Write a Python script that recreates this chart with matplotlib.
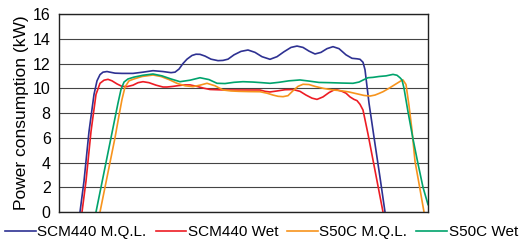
import matplotlib.pyplot as plt
import numpy as np

plt.rcParams['font.family'] = ['Liberation Sans', 'DejaVu Sans']

# x positions are in relative time units across the plot width (no x axis shown)
scm_mql_x = [21, 25, 30, 35, 38, 41, 44, 48, 51, 56, 63, 74, 84, 94, 104, 112, 116, 120, 124, 128, 133,
             137, 141, 146, 152, 159, 164, 169, 175, 182, 189, 196, 203, 211, 218, 225, 232, 238, 244,
             250, 256, 262, 268, 274, 280, 287, 293, 298, 301, 304, 306, 310, 316, 321, 326]
scm_mql_y = [0, 2.5, 6.5, 9.5, 10.6, 11.1, 11.3, 11.35, 11.3, 11.22, 11.2, 11.2, 11.3, 11.42, 11.35,
             11.26, 11.3, 11.55, 12.0, 12.35, 12.65, 12.75, 12.74, 12.6, 12.35, 12.23, 12.25, 12.35, 12.7,
             12.98, 13.09, 12.9, 12.55, 12.34, 12.55, 12.95, 13.3, 13.41, 13.3, 13.0, 12.77, 12.9, 13.2,
             13.36, 13.2, 12.7, 12.42, 12.38, 12.34, 12.1, 11.5, 8.8, 5.5, 2.8, 0]

scm_wet_x = [23, 27, 32, 37, 41, 45, 49, 53, 58, 63, 68, 74, 79, 84, 90, 97, 104, 108, 114, 120, 126,
             131, 138, 145, 151, 165, 180, 201, 206, 211, 218, 226, 234, 241, 247, 253, 258, 264, 270,
             275, 278, 283, 287, 291, 295, 298, 301, 304, 309, 314, 319, 324]
scm_wet_y = [0, 2.5, 6.5, 9.5, 10.4, 10.65, 10.72, 10.6, 10.35, 10.15, 10.13, 10.25, 10.45, 10.53,
             10.45, 10.25, 10.1, 10.1, 10.15, 10.22, 10.27, 10.27, 10.15, 10.0, 9.9, 9.86, 9.86, 9.86, 9.75,
             9.7, 9.78, 9.88, 9.9, 9.75, 9.45, 9.2, 9.1, 9.3, 9.65, 9.86, 9.87, 9.75, 9.6, 9.3, 9.1, 9.0,
             8.7, 8.24, 6.3, 4.2, 2.1, 0]

s50_mql_x = [41, 46, 51, 56, 60, 63, 66, 70, 75, 83, 94, 102, 110, 118, 126, 134, 141, 148, 156, 164,
             172, 180, 190, 201, 208, 214, 219, 224, 229, 234, 239, 244, 250, 256, 265, 274, 282, 290,
             298, 305, 311, 316, 320, 324, 329, 334, 339, 342, 344, 347, 350, 353, 356, 360, 365]
s50_mql_y = [0, 2.0, 4.0, 6.0, 7.8, 9.1, 10.1, 10.6, 10.75, 10.95, 11.07, 10.95, 10.7, 10.4, 10.2,
             10.13, 10.25, 10.4, 10.2, 9.86, 9.78, 9.75, 9.73, 9.72, 9.6, 9.45, 9.35, 9.32, 9.4, 9.8,
             10.15, 10.32, 10.3, 10.15, 9.98, 9.86, 9.8, 9.7, 9.55, 9.42, 9.37, 9.45, 9.58, 9.72, 9.95,
             10.2, 10.45, 10.6, 10.67, 10.3, 8.6, 6.6, 4.1, 2.3, 0]

s50_wet_x = [37, 42, 47, 52, 56, 59, 62, 65, 69, 75, 84, 94, 103, 112, 121, 131, 141, 150, 158, 166,
             175, 184, 194, 203, 211, 220, 230, 241, 250, 260, 271, 283, 294, 300, 305, 309, 314, 320,
             327, 334, 338, 341, 343, 345, 349, 354, 359, 364, 369]
s50_wet_y = [0, 2.0, 4.0, 6.0, 7.6, 8.8, 9.9, 10.5, 10.75, 10.9, 11.05, 11.15, 11.0, 10.75, 10.53,
             10.65, 10.85, 10.7, 10.4, 10.38, 10.48, 10.53, 10.5, 10.45, 10.4, 10.48, 10.6, 10.67, 10.58,
             10.47, 10.45, 10.42, 10.4, 10.5, 10.7, 10.85, 10.88, 10.95, 11.0, 11.12, 11.05, 10.85,
             10.67, 10.0, 8.1, 5.9, 3.9, 2.0, 0.6]

series = [
    (scm_mql_x, scm_mql_y, 'SCM440 M.Q.L.', '#2e3192'),
    (scm_wet_x, scm_wet_y, 'SCM440 Wet', '#ed1c24'),
    (s50_mql_x, s50_mql_y, 'S50C M.Q.L.', '#f7941d'),
    (s50_wet_x, s50_wet_y, 'S50C Wet', '#00a36c'),
]

fig = plt.figure(figsize=(5.23, 2.43), dpi=100)
ax = fig.add_axes([59 / 523, 31 / 243, 369 / 523, 198 / 243])

for x, y, label, color in series:
    ax.plot(x, y, color=color, lw=1.2, label=label, solid_joinstyle='round')

ax.set_xlim(0, 369)
ax.set_ylim(0, 16)
ax.set_yticks(np.arange(0, 17, 2))
ax.set_xticks([])
ax.tick_params(axis='y', length=0, labelsize=11.5, pad=6)
ax.grid(axis='y', color='#444444', lw=0.8)
ax.set_axisbelow(True)
for s in ax.spines.values():
    s.set_linewidth(1.0)
    s.set_color('#222222')
ax.set_ylabel('Power consumption (kW)', fontsize=12.5, labelpad=3)

fig.legend(loc='center', bbox_to_anchor=(0.5, 11 / 243), ncol=4, frameon=False,
           fontsize=11, handlelength=2.0, handletextpad=0.1, columnspacing=0.6,
           borderaxespad=0, borderpad=0)

fig.savefig('out.png', dpi=100)
